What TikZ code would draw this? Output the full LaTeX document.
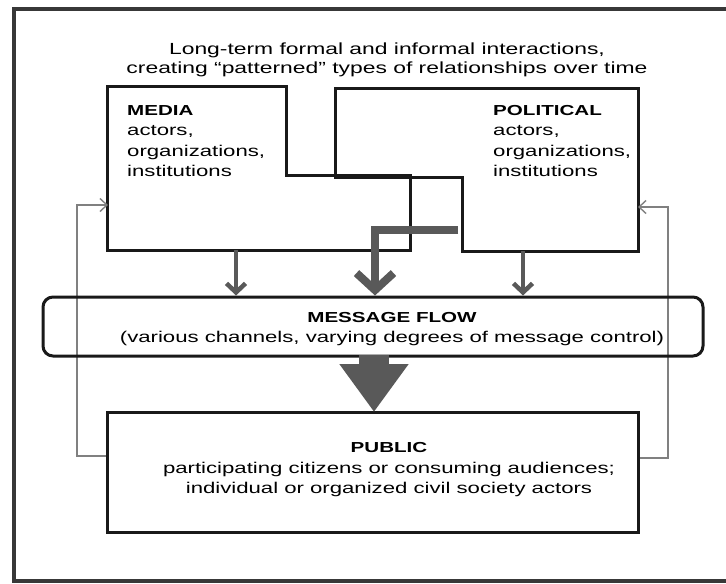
\documentclass[tikz,border=0pt]{standalone}
\usepackage{fontspec}
\setmainfont{Liberation Sans}[FakeStretch=1.42]
\usepackage{xcolor}
\usetikzlibrary{arrows.meta,calc,positioning}
\newcommand\headword[1]{{\fontsize{14.5}{21}\selectfont\bfseries #1}}

\begin{document}
\begin{tikzpicture}[x=1pt,y=-1pt,>=Latex,
  every node/.style={font=\fontsize{15.6}{20.5}\selectfont,inner sep=0pt},
  boxline/.style={draw=black!90,line width=3pt,line join=miter},
  grayarrow/.style={draw=black!65,line width=4.5pt,-{Straight Barb[length=9pt,width=19pt]}},
  bigarrow/.style={draw=black!65,line width=8pt,-{Straight Barb[length=17pt,width=37pt]}},
  feedback/.style={draw=black!50,line width=1.4pt,-{Straight Barb[length=7pt,width=13pt]}}]
\useasboundingbox (0,0) rectangle (726,584);
\draw[black!78,line width=4pt] (740,9)--(14,9)--(14,581)--(740,581);
\node[align=center,font=\fontsize{16.1}{19.5}\selectfont] (title) at (387,60) {Long-term formal and informal interactions,\\creating ``patterned'' types of relationships over time};
% actors' boxes
\draw[boxline] (107,86)--(286,86)--(286,175)--(410,175)--(410,250)--(107,250)--cycle;
\draw[boxline] (335,88)--(638,88)--(638,251)--(462,251)--(462,177)--(335,177)--cycle;
\node[align=left,anchor=north west] (media) at (127,105) {\headword{MEDIA}\\actors,\\organizations,\\institutions};
\node[align=left,anchor=north west] (political) at (493,105) {\headword{POLITICAL}\\actors,\\organizations,\\institutions};
\coordinate (mediaB) at (236,250); \coordinate (mediaL) at (108,205);
\coordinate (polB) at (523,251); \coordinate (polR) at (638,207);
\coordinate (joint) at (458,230); \coordinate (bend) at (375,230);
% feedback from the public
\coordinate (fbL) at (107,456); \coordinate (fbR) at (637,458);
\draw[feedback] (fbL) -- ++(-30,0) |- (mediaL);
\draw[feedback] (fbR) -- ++(31,0) |- (polR);
% message flow and public
\node[draw=black!90,line width=3pt,rounded corners=10pt,minimum width=660pt,minimum height=59pt] (flow) at (373,326.5) {};
\node[align=center] (flowtext) at (392,329) {\headword{MESSAGE FLOW}\\(various channels, varying degrees of message control)};
\node[draw=black!90,line width=3pt,minimum width=531pt,minimum height=120pt] (public) at (372.5,472) {};
\node[align=center] (publictext) at (389,470) {\headword{PUBLIC}\\participating citizens or consuming audiences;\\individual or organized civil society actors};
\draw[grayarrow] (mediaB) -- (mediaB |- flow.north);
\draw[grayarrow] (polB) -- (polB |- flow.north);
\draw[bigarrow,line join=miter] (joint) -- (bend) -- (bend |- flow.north);
\draw[black!65,line width=30pt,-{Triangle[length=48pt,width=66pt]}] (374,355) -- (374,412);
\end{tikzpicture}
\end{document}
